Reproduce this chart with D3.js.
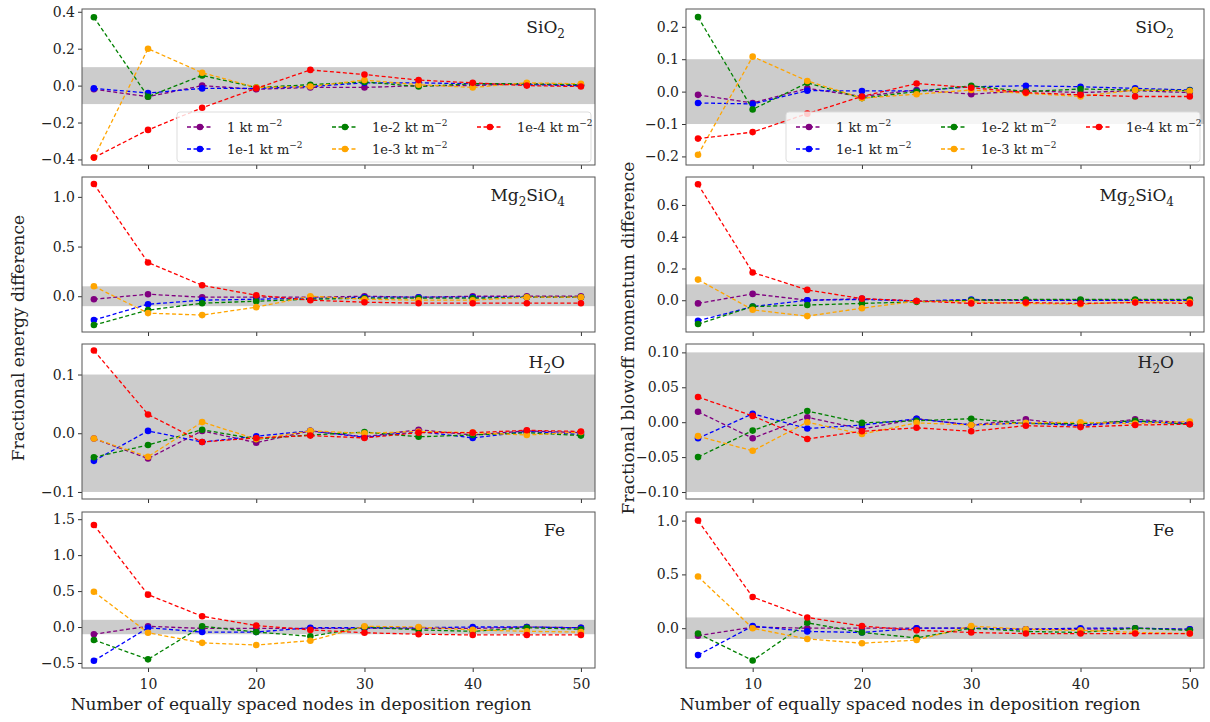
<!DOCTYPE html>
<html><head><meta charset="utf-8">
<script src="https://cdn.jsdelivr.net/npm/d3@7"></script>
<style>body{margin:0;background:#fff}text{font-family:"DejaVu Serif",serif;fill:#222}</style>
</head><body><svg id="c" width="1210" height="722"></svg>
<script>
const xs = [5,10,15,20,25,30,35,40,45,50];
const seriesNames = ["1","1e-1","1e-2","1e-3","1e-4"];
const colors = ["purple","blue","green","orange","red"];
const xTicks = [10,20,30,40,50];

const energySiO2 = [
 [-0.02,-0.06,0.0,-0.02,-0.01,-0.01,0.0,0.0,0.01,0.0],
 [-0.015,-0.04,-0.015,-0.015,-0.005,0.015,0.015,0.01,0.005,0.0],
 [0.37,-0.06,0.055,-0.01,0.005,0.02,-0.005,0.01,0.01,0.005],
 [-0.39,0.2,0.07,-0.01,-0.005,0.03,0.005,-0.01,0.015,0.01],
 [-0.39,-0.24,-0.12,-0.015,0.085,0.06,0.03,0.015,0.0,-0.005]];
const energyMg = [
 [-0.03,0.02,-0.01,-0.01,-0.01,0.0,-0.01,0.0,0.0,0.0],
 [-0.24,-0.08,-0.04,-0.03,-0.02,-0.01,-0.01,-0.01,-0.01,-0.01],
 [-0.29,-0.14,-0.07,-0.05,-0.03,-0.02,-0.02,-0.02,-0.01,-0.01],
 [0.1,-0.17,-0.19,-0.11,0.0,-0.03,-0.04,-0.04,-0.01,-0.01],
 [1.13,0.34,0.11,0.01,-0.04,-0.06,-0.07,-0.07,-0.07,-0.07]];
const energyH2O = [
 [-0.009,-0.043,0.004,-0.016,0.004,-0.006,0.006,-0.003,0.004,0.001],
 [-0.047,0.004,-0.015,-0.005,0.004,-0.007,0.003,-0.008,0.003,-0.002],
 [-0.041,-0.02,0.006,-0.01,-0.003,0.002,-0.006,-0.003,0.001,-0.004],
 [-0.009,-0.04,0.019,-0.01,0.004,0.0,0.003,0.001,-0.003,0.002],
 [0.141,0.032,-0.015,-0.008,-0.004,-0.008,0.001,0.001,0.005,0.003]];
const energyFe = [
 [-0.1,0.01,-0.02,-0.02,-0.02,-0.02,-0.02,-0.02,0.0,-0.01],
 [-0.47,-0.01,-0.07,-0.07,-0.01,-0.01,-0.01,0.0,0.0,-0.01],
 [-0.18,-0.45,0.01,-0.07,-0.13,0.0,-0.04,-0.06,-0.01,-0.03],
 [0.49,-0.08,-0.22,-0.25,-0.19,0.01,0.0,-0.04,-0.06,-0.07],
 [1.42,0.45,0.15,0.02,-0.04,-0.08,-0.1,-0.11,-0.11,-0.11]];
const momSiO2 = [
 [-0.01,-0.035,0.01,-0.015,0.005,-0.008,0.003,-0.003,0.003,-0.003],
 [-0.035,-0.038,0.003,0.002,0.002,0.015,0.018,0.015,0.01,0.005],
 [0.23,-0.055,0.027,-0.02,0.0,0.018,0.0,0.008,0.005,0.003],
 [-0.195,0.108,0.033,-0.02,-0.008,0.005,-0.005,-0.015,0.005,0.002],
 [-0.145,-0.125,-0.068,-0.015,0.025,0.012,-0.003,-0.01,-0.015,-0.015]];
const momMg = [
 [-0.02,0.04,0.0,0.01,-0.005,0.0,0.0,0.0,0.0,0.0],
 [-0.13,-0.04,0.0,0.005,-0.005,0.005,0.0,0.0,0.0,0.0],
 [-0.15,-0.04,-0.03,-0.02,-0.01,0.0,0.005,0.005,0.005,0.005],
 [0.13,-0.06,-0.1,-0.05,-0.005,-0.01,-0.02,-0.025,-0.01,-0.01],
 [0.73,0.175,0.065,0.01,-0.005,-0.02,-0.015,-0.02,-0.015,-0.02]];
const momH2O = [
 [0.015,-0.023,0.007,-0.01,0.005,-0.004,0.004,-0.005,0.004,-0.001],
 [-0.023,0.012,-0.009,-0.004,0.005,-0.004,-0.001,-0.005,0.001,-0.002],
 [-0.05,-0.012,0.016,-0.001,0.002,0.005,-0.002,-0.002,0.002,-0.003],
 [-0.02,-0.041,0.0,-0.017,-0.001,-0.004,-0.001,0.0,-0.002,0.001],
 [0.036,0.009,-0.024,-0.013,-0.008,-0.013,-0.005,-0.007,-0.004,-0.003]];
const momFe = [
 [-0.07,0.01,0.0,0.0,0.0,0.0,-0.01,-0.01,0.0,-0.01],
 [-0.25,0.02,-0.03,-0.04,0.0,0.0,-0.01,0.0,0.0,-0.01],
 [-0.05,-0.3,0.05,-0.04,-0.09,0.0,-0.03,-0.04,0.0,-0.02],
 [0.48,0.0,-0.1,-0.14,-0.11,0.02,-0.01,-0.02,-0.04,-0.05],
 [1.0,0.29,0.1,0.02,-0.02,-0.04,-0.05,-0.05,-0.05,-0.05]];

const panels = [
 {col:0,row:0,data:energySiO2,dom:[-0.43,0.415],ticks:[-0.4,-0.2,0,0.2,0.4],fmt:".1f",t:["SiO","2",""],legend:true},
 {col:0,row:1,data:energyMg,dom:[-0.36,1.2],ticks:[0,0.5,1.0],fmt:".1f",t:["Mg","2","SiO","4"]},
 {col:0,row:2,data:energyH2O,dom:[-0.112,0.152],ticks:[-0.1,0,0.1],fmt:".1f",t:["H","2","O"]},
 {col:0,row:3,data:energyFe,dom:[-0.57,1.6],ticks:[-0.5,0,0.5,1.0,1.5],fmt:".1f",t:["Fe"]},
 {col:1,row:0,data:momSiO2,dom:[-0.2265,0.255],ticks:[-0.2,-0.1,0,0.1,0.2],fmt:".1f",t:["SiO","2",""],legend:true},
 {col:1,row:1,data:momMg,dom:[-0.2,0.776],ticks:[0,0.2,0.4,0.6],fmt:".1f",t:["Mg","2","SiO","4"]},
 {col:1,row:2,data:momH2O,dom:[-0.11,0.112],ticks:[-0.1,-0.05,0,0.05,0.1],fmt:".2f",t:["H","2","O"]},
 {col:1,row:3,data:momFe,dom:[-0.37,1.08],ticks:[0,0.5,1.0],fmt:".1f",t:["Fe"]}];

const colX = [[82,595],[686,1204]];
const rowY = [[9,165],[177,332],[344,499],[512,668]];
const svg = d3.select("#c");
const minus = s => s.replace("-","\u2212");

panels.forEach((p,i)=>{
  const [x0,x1] = colX[p.col], [y0,y1] = rowY[p.row];
  const x = d3.scaleLinear().domain([3.9,51.3]).range([x0,x1]);
  const y = d3.scaleLinear().domain(p.dom).range([y1,y0]);
  const g = svg.append("g");
  g.append("clipPath").attr("id","cp"+i).append("rect").attr("x",x0).attr("y",y0).attr("width",x1-x0).attr("height",y1-y0);
  const inner = g.append("g").attr("clip-path","url(#cp"+i+")");
  inner.append("rect").attr("x",x0).attr("width",x1-x0).attr("y",y(0.1)).attr("height",y(-0.1)-y(0.1)).attr("fill","#cccccc");
  const line = d3.line().x((d,j)=>x(xs[j])).y(d=>y(d));
  p.data.forEach((s,k)=>{
    inner.append("path").attr("d",line(s)).attr("fill","none").attr("stroke",colors[k]).attr("stroke-width",1.3).attr("stroke-dasharray","4,2.5");
    inner.selectAll(null).data(s).join("circle").attr("cx",(d,j)=>x(xs[j])).attr("cy",d=>y(d)).attr("r",3.3).attr("fill",colors[k]);
  });
  const ax = g.append("g").attr("transform",`translate(0,${y1})`).call(d3.axisBottom(x).tickValues(xTicks).tickSize(4).tickFormat(p.row===3?d3.format("d"):""));
  const ay = g.append("g").attr("transform",`translate(${x0},0)`).call(d3.axisLeft(y).tickValues(p.ticks).tickSize(4).tickFormat(d=>minus(d3.format(p.fmt)(d))));
  [ax,ay].forEach(a=>{a.select(".domain").remove();a.selectAll("text").style("font-family","DejaVu Serif").style("font-size","14px").attr("fill","#222");a.selectAll("line").attr("stroke","#333");});
  ax.selectAll("text").attr("dy","1.0em");
  g.append("rect").attr("x",x0).attr("y",y0).attr("width",x1-x0).attr("height",y1-y0).attr("fill","none").attr("stroke","#555").attr("stroke-width",1);
  // title
  const tt = g.append("text").attr("x",x1-30).attr("y",y0+24).attr("text-anchor","end").style("font-size","17px");
  p.t.forEach((s,j)=>{ if(!s) return; const sp = tt.append("tspan").text(s);
    if(j%2===1){ sp.style("font-size","12px").attr("dy",5);} else if(j>0){ sp.attr("dy",-5);} });
  if(p.legend){
    const lx = x1-418, ly = y1-53;
    g.append("rect").attr("x",lx).attr("y",ly).attr("width",414).attr("height",50).attr("rx",3).attr("fill","white").attr("fill-opacity",0.8).attr("stroke","#ddd");
    const pos = [[0,0],[0,1],[1,0],[1,1],[2,0]];
    seriesNames.forEach((n,k)=>{
      const ex = lx+10+pos[k][0]*145, ey = ly+15+pos[k][1]*22;
      g.append("line").attr("x1",ex).attr("x2",ex+26).attr("y1",ey).attr("y2",ey).attr("stroke",colors[k]).attr("stroke-width",1.3).attr("stroke-dasharray","4,2.5");
      g.append("circle").attr("cx",ex+13).attr("cy",ey).attr("r",3.3).attr("fill",colors[k]);
      const t = g.append("text").attr("x",ex+40).attr("y",ey+5).style("font-size","13px");
      t.append("tspan").text(n+" kt m");
      t.append("tspan").text("\u22122").style("font-size","9px").attr("dy",-6);
    });
  }
});
svg.append("text").attr("transform","translate(24,338) rotate(-90)").attr("text-anchor","middle").style("font-size","17px").text("Fractional energy difference");
svg.append("text").attr("transform","translate(634,338) rotate(-90)").attr("text-anchor","middle").style("font-size","17px").text("Fractional blowoff momentum difference");
svg.append("text").attr("x",301).attr("y",710).attr("text-anchor","middle").style("font-size","17px").text("Number of equally spaced nodes in deposition region");
svg.append("text").attr("x",910).attr("y",710).attr("text-anchor","middle").style("font-size","17px").text("Number of equally spaced nodes in deposition region");
</script></body></html>
